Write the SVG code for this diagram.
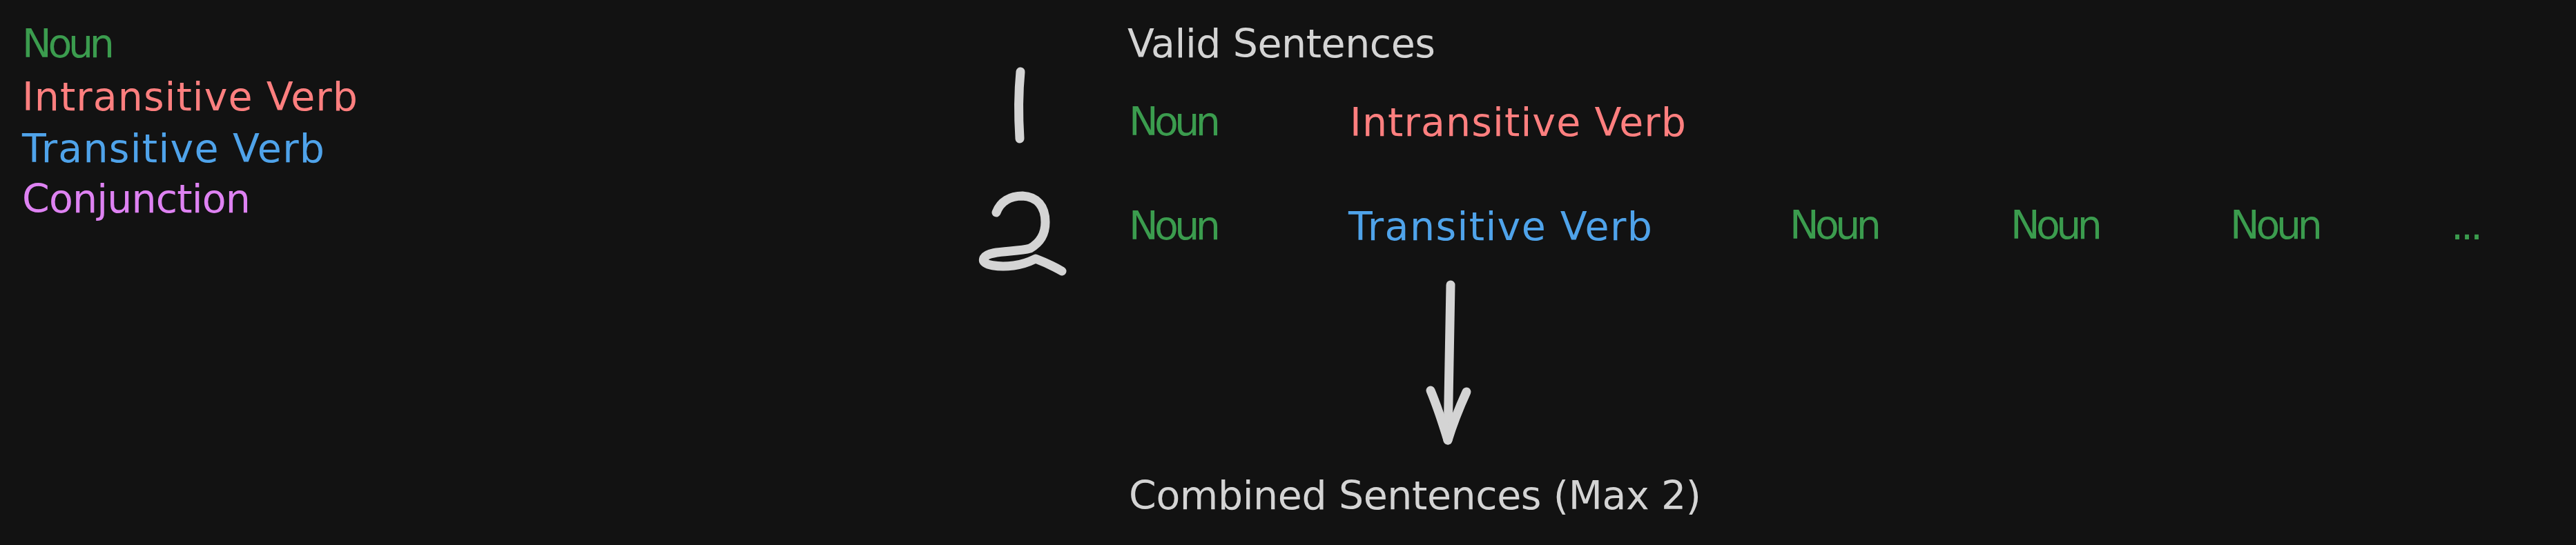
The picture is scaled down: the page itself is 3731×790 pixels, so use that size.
<svg xmlns="http://www.w3.org/2000/svg" width="3731" height="790" viewBox="0 0 3731 790">
<defs>
<style>
text { font-family: "DejaVu Sans", "Liberation Sans", sans-serif; font-size: 57px; }
.noun { fill: #3b9c4e; }
.itv { fill: #ff7f7f; }
.tv { fill: #4fa3ea; }
.conj { fill: #de82f2; }
.white { fill: #d4d4d4; }
.stroke { fill: none; stroke: #d4d4d4; stroke-width: 13; stroke-linecap: round; stroke-linejoin: round; }
</style>
</defs>
<rect x="0" y="0" width="3731" height="790" fill="#121212"/>
<g id="legend">
  <g id="legend-noun"><text class="noun" x="32" y="83" textLength="134">Noun</text></g>
  <g id="legend-intransitive"><text class="itv" x="32" y="160" textLength="486">Intransitive Verb</text></g>
  <g id="legend-transitive"><text class="tv" x="32" y="235" textLength="438">Transitive Verb</text></g>
  <g id="legend-conjunction"><text class="conj" x="32" y="308" textLength="331">Conjunction</text></g>
</g>
<g id="title-valid"><text class="white" x="1633" y="83" textLength="446">Valid Sentences</text></g>
<g id="num-1"><path class="stroke" d="M1478,104 C1475,135 1475,170 1477,201"/></g>
<g id="num-2"><path class="stroke" d="M1443,308 C1449,292 1463,284 1481,284 C1502,285 1514,299 1514,322 C1514,340 1506,352 1492,360 C1472,366 1432,362 1425,374 C1420,386 1450,387 1468,385 C1483,383 1494,378 1500,375 C1513,380 1526,386 1538,393"/></g>
<g id="row1">
  <g id="r1-noun"><text class="noun" x="1635" y="196" textLength="133">Noun</text></g>
  <g id="r1-intransitive"><text class="itv" x="1955" y="197" textLength="487">Intransitive Verb</text></g>
</g>
<g id="row2">
  <g id="r2-noun1"><text class="noun" x="1635" y="347" textLength="133">Noun</text></g>
  <g id="r2-transitive"><text class="tv" x="1953" y="348" textLength="440">Transitive Verb</text></g>
  <g id="r2-noun2"><text class="noun" x="2592" y="346" textLength="133">Noun</text></g>
  <g id="r2-noun3"><text class="noun" x="2912" y="346" textLength="133">Noun</text></g>
  <g id="r2-noun4"><text class="noun" x="3230" y="346" textLength="134">Noun</text></g>
  <g id="r2-dots"><text class="noun" x="3550" y="347" textLength="46">...</text></g>
</g>
<g id="connectors">
  <path class="stroke" d="M2101,413 C2100,480 2098,570 2097,638"/>
  <path class="stroke" d="M2072,566 C2082,590 2090,615 2097,638 C2104,615 2114,590 2124,568"/>
</g>
<g id="title-combined"><text class="white" x="1635" y="738" textLength="829">Combined Sentences (Max 2)</text></g>
</svg>
